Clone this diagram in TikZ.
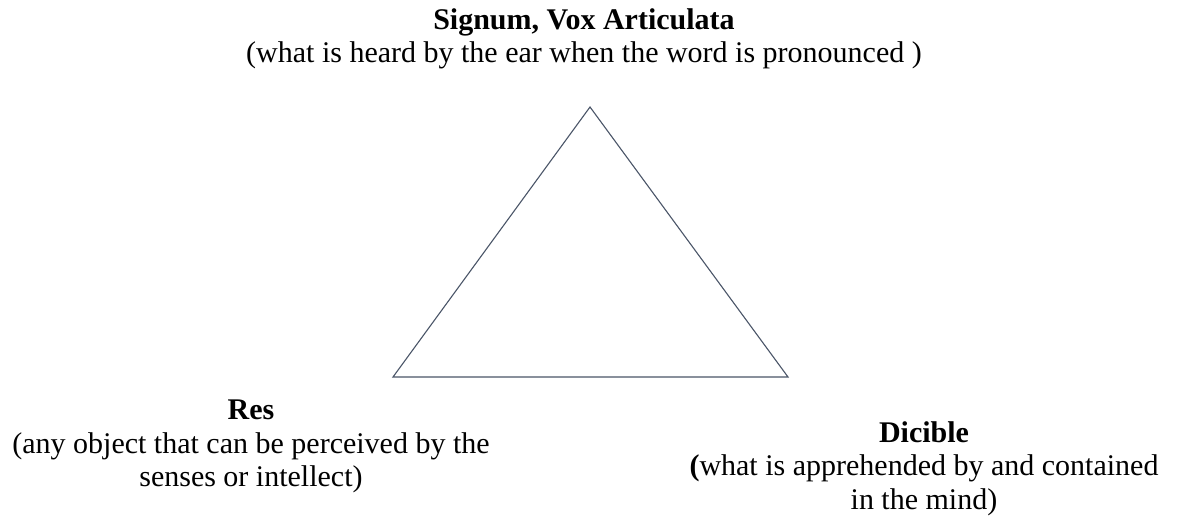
\documentclass[tikz,border=0pt]{standalone}
\usepackage{fontspec}
\setmainfont{Liberation Serif}
\definecolor{edgecol}{HTML}{4A5568}
\begin{document}
\begin{tikzpicture}[x=1pt,y=-1pt,
  lbl/.style={align=center,inner sep=0pt,font=\fontsize{30}{33.5}\selectfont},
  edge/.style={draw=edgecol,line width=1.1pt,line join=miter}]
\useasboundingbox (0,0) rectangle (1185,516);
\fill[white] (0,0) rectangle (1185,516);
\coordinate (top) at (590,107);
\coordinate (left) at (393,377);
\coordinate (right) at (788,377);
\draw[edge] (top) -- (left) -- (right) -- cycle;
\node[lbl,anchor=north] (signum) at (584,8) {\textbf{Signum, Vox Articulata}\\(what is heard by the ear when the word is pronounced )};
\node[lbl,anchor=north] (res) at (251,400) {\textbf{Res}\\(any object that can be perceived by the\\senses or intellect)};
\node[lbl,anchor=north] (dicible) at (924,421) {\textbf{Dicible}\\\textbf{(}what is apprehended by and contained\\in the mind)};
\end{tikzpicture}
\end{document}
